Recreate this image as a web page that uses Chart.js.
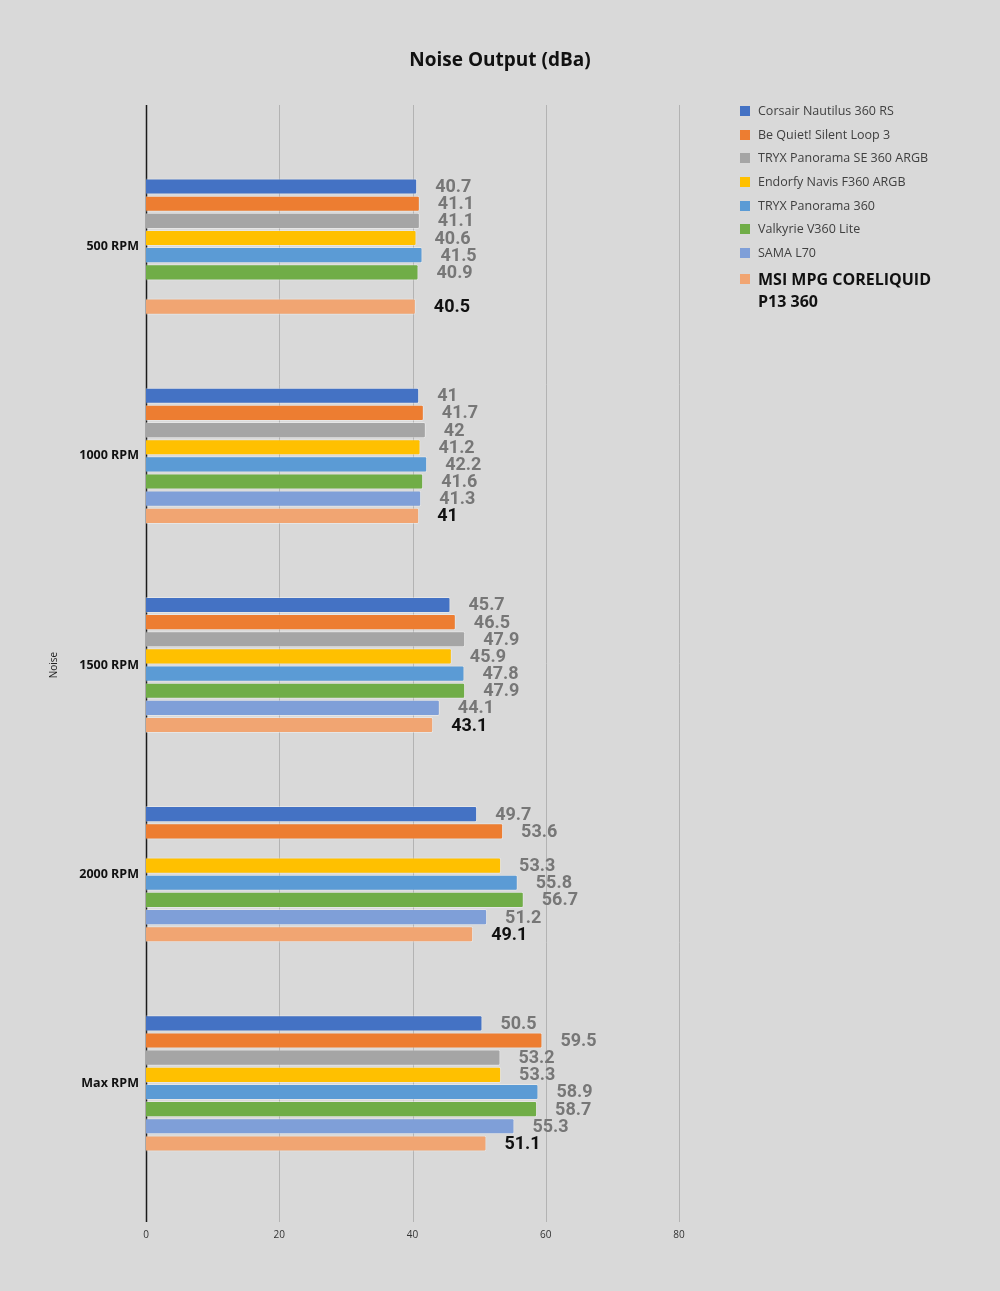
<!DOCTYPE html>
<html>
<head>
<meta charset="utf-8">
<script src="https://cdn.jsdelivr.net/npm/chart.js@4.4.1/dist/chart.umd.min.js"></script>
<style>
  html, body { margin: 0; padding: 0; background: #d9d9d9; }
  #wrap { position: relative; width: 1000px; height: 1291px; }
  #title { position: absolute; left: 0; width: 1000px; top: 46px; text-align: center;
           font-family: "Open Sans", "Noto Sans", sans-serif; font-size: 19px; font-weight: bold; color: #111; }
  #legend { position: absolute; left: 740px; top: 102px; font-family: "Open Sans", "Noto Sans", sans-serif; }
  #legend .item { display: flex; align-items: flex-start; height: 23.7px; font-size: 12.5px; color: #404040; }
  #legend .sw { width: 10px; height: 10px; margin: 4px 8px 0 0; flex: none; }
  #legend .item.main { font-size: 16px; font-weight: bold; color: #111; line-height: 22px; height: auto; }
  #legend .item.main .sw { margin-top: 6px; }
</style>
</head>
<body>
<div id="wrap">
  <canvas id="chart" width="1000" height="1291"></canvas>
  <div id="title">Noise Output (dBa)</div>
  <div id="legend"></div>
</div>
<script>
const categories = ['500 RPM', '1000 RPM', '1500 RPM', '2000 RPM', 'Max RPM'];
const seriesNames = [
  'Corsair Nautilus 360 RS',
  'Be Quiet! Silent Loop 3',
  'TRYX Panorama SE 360 ARGB',
  'Endorfy Navis F360 ARGB',
  'TRYX Panorama 360',
  'Valkyrie V360 Lite',
  'SAMA L70',
  'MSI MPG CORELIQUID P13 360'
];
const colors = ['#4472c4', '#ed7d31', '#a5a5a5', '#ffc000', '#5b9bd5', '#70ad47', '#7f9fd8', '#f1a572'];

const corsair = [40.7, 41, 45.7, 49.7, 50.5];
const beQuiet = [41.1, 41.7, 46.5, 53.6, 59.5];
const tryxSE = [41.1, 42, 47.9, null, 53.2];
const endorfy = [40.6, 41.2, 45.9, 53.3, 53.3];
const tryx = [41.5, 42.2, 47.8, 55.8, 58.9];
const valkyrie = [40.9, 41.6, 47.9, 56.7, 58.7];
const sama = [null, 41.3, 44.1, 51.2, 55.3];
const msi = [40.5, 41, 43.1, 49.1, 51.1];

const xTicks = [0, 20, 40, 60, 80];

const allSeries = [corsair, beQuiet, tryxSE, endorfy, tryx, valkyrie, sama, msi];

// legend as html
const legendEl = document.getElementById('legend');
seriesNames.forEach((name, i) => {
  const item = document.createElement('div');
  item.className = 'item' + (i === seriesNames.length - 1 ? ' main' : '');
  const sw = document.createElement('span');
  sw.className = 'sw';
  sw.style.background = colors[i];
  const txt = document.createElement('span');
  txt.textContent = name;
  if (i === seriesNames.length - 1) txt.style.width = '180px';
  item.appendChild(sw);
  item.appendChild(txt);
  legendEl.appendChild(item);
});

// grid lines that run past the bars, like the original
const gridPlugin = {
  id: 'longGrid',
  beforeDatasetsDraw(chart) {
    const { ctx, scales: { x } } = chart;
    ctx.save();
    xTicks.forEach(v => {
      const px = Math.round(x.getPixelForValue(v)) + 0.5;
      ctx.strokeStyle = v === 0 ? '#1a1a1a' : '#b3b3b3';
      ctx.lineWidth = v === 0 ? 1.5 : 1;
      ctx.beginPath();
      ctx.moveTo(px, 105);
      ctx.lineTo(px, 1222);
      ctx.stroke();
    });
    ctx.restore();
  }
};

const labelPlugin = {
  id: 'valueLabels',
  afterDatasetsDraw(chart) {
    const { ctx } = chart;
    ctx.save();
    ctx.textBaseline = 'middle';
    ctx.textAlign = 'left';
    chart.data.datasets.forEach((ds, di) => {
      const meta = chart.getDatasetMeta(di);
      const last = di === chart.data.datasets.length - 1;
      ctx.font = 'bold 18px Roboto, sans-serif';
      ctx.fillStyle = last ? '#111111' : '#777777';
      meta.data.forEach((bar, i) => {
        const v = ds.data[i];
        if (v === null) return;
        ctx.fillText(String(v), bar.x + 18, bar.y + 1);
      });
    });
    ctx.restore();
  }
};

const ctx = document.getElementById('chart').getContext('2d');
new Chart(ctx, {
  type: 'bar',
  data: {
    labels: categories,
    datasets: allSeries.map((data, i) => ({
      label: seriesNames[i],
      data: data,
      backgroundColor: colors[i],
      borderColor: 'rgba(255,255,255,0.35)',
      borderWidth: 1,
      borderRadius: 2,
      categoryPercentage: 0.656,
      barPercentage: 0.94
    }))
  },
  options: {
    indexAxis: 'y',
    responsive: false,
    animation: false,
    layout: { padding: { left: 44, right: 321, top: 142, bottom: 9 } },
    plugins: {
      legend: { display: false },
      tooltip: { enabled: false },
      title: { display: false }
    },
    scales: {
      x: {
        min: 0,
        max: 80,
        afterBuildTicks: scale => { scale.ticks = xTicks.map(v => ({ value: v })); },
        grid: { display: false, drawTicks: false },
        border: { display: false },
        ticks: { color: '#333333', padding: 41, font: { family: '"Open Sans", sans-serif', size: 10 } }
      },
      y: {
        afterFit: scale => { scale.width = 102; },
        grid: { display: false, drawTicks: false },
        border: { display: false },
        ticks: { color: '#111111', padding: 7, font: { family: '"Open Sans", sans-serif', size: 12.5, weight: 'bold' } },
        title: {
          display: true,
          text: 'Noise',
          color: '#222222',
          font: { family: '"Open Sans", sans-serif', size: 10 },
          padding: 4
        }
      }
    }
  },
  plugins: [gridPlugin, labelPlugin]
});
</script>
</body>
</html>
